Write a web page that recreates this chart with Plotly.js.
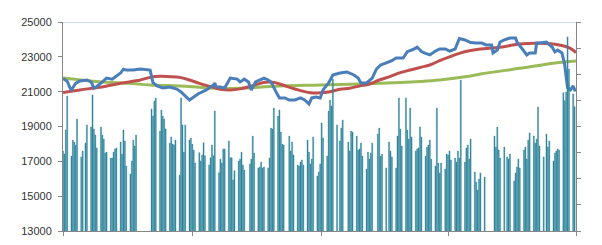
<!DOCTYPE html>
<html><head><meta charset="utf-8">
<script src="https://cdn.plot.ly/plotly-3.0.1.min.js"></script>
<style>html,body{margin:0;padding:0;background:#fff;} #chart{width:602px;height:245px;}</style>
</head><body><div id="chart"></div>
<script>
// calendar window of the chart (day offsets are counted from startDate, a Tuesday)
const startDate = '2014-07-01';
const endDate = '2015-07-01';
const quarterTicks = ['2014-07-01', '2014-10-01', '2015-01-01', '2015-04-01', '2015-07-01'];
const yTicks = [13000, 15000, 17000, 19000, 21000, 23000, 25000];

// volume bars, one row per week, Mon..Fri (null = no bar)
const volumeWeeks = [
  [null, 17590, 17420, 18800, 20750],
  [17300, 18220, 18110, 17940, 19430],
  [17250, 17590, null, 18050, 19090],
  [18970, 20810, 18860, 18510, 17770],
  [18970, 18510, 18280, 17480, 17530],
  [17190, 17190, 17530, 17710, 17770],
  [18110, 17420, 18800, 18170, 16730],
  [16270, 17020, 18220, 17880, 18510],
  [null, null, null, null, null],
  [null, 20000, 19600, 20460, 20640],
  [18740, 19950, 19600, 19430, 18860],
  [18050, 18400, 17990, 17940, 18220],
  [16210, 20640, 19090, 17530, 19090],
  [18220, 18340, 17990, 17650, 16900],
  [17500, 17020, 17370, 18070, 17320],
  [16790, 17210, 17940, 17320, 19890],
  [16350, 17130, 16900, 17710, 17710],
  [18170, 17210, 17210, 15930, 16460],
  [17020, 17130, 17530, 16790, 16500],
  [null, 16850, 17130, 18450, 17480],
  [16620, 16670, 16960, 16620, 16670],
  [16620, 17190, 18910, 18860, 20060],
  [19600, 19950, 18680, 17990, 17940],
  [null, 18450, 17590, 18110, 17370],
  [16790, 16730, 16960, 17080, 16790],
  [18220, 17530, 16850, 17130, 18400],
  [16160, 16390, 16850, 19200, 18340],
  [17300, 19890, 20520, 20180, 21730],
  [19090, null, 18170, 18910, 19370],
  [null, 18110, 17590, 18740, 18680],
  [18450, 17650, 17710, 18050, 17300],
  [16560, 17530, 17130, 17480, 18050],
  [null, 18570, 18910, 17300, 17420],
  [16620, null, 18110, 17590, 17250],
  [16620, 18450, 20640, 18860, 17880],
  [20640, 18800, 18280, 20060, 18400],
  [17590, 17710, 17770, 18970, 18400],
  [17300, 17820, 17940, 18220, 17130],
  [16730, 20060, 16900, 16330, 16900],
  [16560, 17420, 17370, 17590, 17080],
  [17190, 16960, 17590, 17190, 21670],
  [16960, 17770, 17940, 17130, 18280],
  [16390, 15810, 15350, 15980, 16330],
  [16100, null, null, null, null],
  [18450, 17820, 18970, 17650, 17190],
  [17820, null, 17250, 17130, 17420],
  [15870, 16330, 16670, 17130, 16620],
  [17650, 17820, 17130, 18220, 18630],
  [18450, 18050, 18280, 20120, 17880],
  [17250, null, 18570, 17820, 18170],
  [17020, 17480, 17590, 17710, 17650],
  [20940, 20480, 20980, 24140, 22300],
  [20870, 20140]
];

// price line (blue)
const priceDays = [0,3,5,6,9,12,17,20,22,24,28,31,35,37,41,43,45,50,55,62,64,67,71,76,81,84,88,90,93,96,102,107,108,109,112,115,119,124,126,129,132,134,137,140,143,146,148,152,154,158,161,165,169,172,175,177,180,183,185,189,192,197,202,207,210,212,216,220,223,226,230,234,237,242,245,249,252,255,258,261,265,268,272,275,279,282,286,290,294,298,301,305,306,309,311,314,318,322,323,327,330,332,336,337,339,344,348,350,352,355,357,358,359,361,363,364,365];
const priceValues = [21750,21600,21210,21100,21480,21610,21670,21560,21200,21300,21560,21780,21720,21850,22070,22290,22240,22250,22300,22240,21520,21330,21210,21270,21150,20980,20690,20520,20690,20870,21100,21380,21500,21270,21270,21210,21780,21720,21560,21720,21560,21100,21560,21670,21780,21670,21560,20920,20640,20640,20520,20520,20640,20520,20290,20640,20690,20640,21100,21500,21960,22070,22130,21960,21780,21500,21500,21780,22300,22530,22650,22780,22930,22930,23300,23420,23560,23300,23200,23110,23330,23450,23450,23330,23450,24050,23970,23820,23790,23790,23680,23680,23220,23390,23850,23970,24080,24080,23850,23390,23110,23220,23220,23790,23790,23850,23560,23280,23390,23220,22530,21840,21210,21100,21330,21100,21100];

// shorter moving average (red)
const fastDays = [0,12,26,41,55,62,69,76,83,90,97,105,112,119,126,133,144,151,158,169,176,183,190,197,204,211,218,225,233,240,247,254,261,268,282,290,297,311,325,339,353,361,365];
const fastValues = [20950,21100,21250,21480,21670,21820,21880,21860,21820,21670,21480,21290,21140,21100,21160,21300,21540,21520,21330,21060,20940,20940,21000,21140,21200,21330,21440,21670,21880,22090,22240,22390,22530,22780,23200,23360,23450,23550,23740,23780,23680,23490,23240];

// longer moving average (green)
const slowDays = [0,26,47,62,83,97,112,126,154,183,211,240,254,268,290,297,325,353,365];
const slowValues = [21790,21570,21480,21380,21330,21250,21170,21190,21330,21380,21440,21520,21580,21670,21900,22010,22340,22670,22760];

const DAY = 86400000;
const t0 = Date.parse(startDate + 'T00:00:00Z');
function dayToDate(d) { return new Date(t0 + d * DAY).toISOString().slice(0, 10); }

const barX = [], barY = [];
volumeWeeks.forEach((week, k) => {
  week.forEach((v, i) => {
    const d = 7 * k - 1 + i;   // Monday of week k is day 7k-1
    if (v !== null && d >= 0) { barX.push(dayToDate(d)); barY.push(v); }
  });
});

const axisGray = '#868686';
const barColor = '#31859C';
const traces = [
  { type: 'scatter', mode: 'lines', x: slowDays.map(dayToDate), y: slowValues,
    line: { color: '#9BBB59', width: 3, shape: 'spline' }, hoverinfo: 'skip' },
  { type: 'scatter', mode: 'lines', x: fastDays.map(dayToDate), y: fastValues,
    line: { color: '#C0504D', width: 3, shape: 'spline' }, hoverinfo: 'skip' },
  { type: 'scatter', mode: 'lines', x: priceDays.map(dayToDate), y: priceValues,
    line: { color: '#4A7EBB', width: 3 }, hoverinfo: 'skip' },
  { type: 'bar', x: barX, y: barY, yaxis: 'y2',
    marker: { color: barColor, line: { width: 0.4, color: barColor } }, hoverinfo: 'skip' }
];

const layout = {
  width: 602, height: 245,
  margin: { l: 63, r: 26, t: 22, b: 14, pad: 0 },
  paper_bgcolor: '#ffffff', plot_bgcolor: '#ffffff',
  showlegend: false, bargap: 0.25,
  font: { family: 'Liberation Sans, Arial, sans-serif', size: 11, color: '#333333' },
  xaxis: {
    type: 'date', range: [startDate, endDate], tickmode: 'array', tickvals: quarterTicks,
    showticklabels: false, ticks: 'outside', ticklen: 4, tickcolor: axisGray,
    showline: true, linecolor: axisGray, linewidth: 1, showgrid: false, zeroline: false, fixedrange: true
  },
  yaxis: {
    range: [13000, 25000], tickmode: 'array', tickvals: yTicks, ticktext: yTicks.map(String),
    ticks: 'outside', ticklen: 4, tickcolor: axisGray, showline: true, linecolor: axisGray,
    showgrid: false, zeroline: false, ticklabelstandoff: 4,
    tickfont: { family: 'Liberation Sans, Arial, sans-serif', size: 11, color: '#333333' }
  },
  yaxis2: {
    overlaying: 'y', side: 'right', range: [13000, 25000], tick0: 13000, dtick: 1500,
    showticklabels: false, ticks: 'outside', ticklen: 4, tickcolor: axisGray,
    showline: true, linecolor: axisGray, showgrid: false, zeroline: false
  },
  shapes: [{ type: 'line', xref: 'paper', x0: 0, x1: 1, yref: 'y', y0: 25000, y1: 25000,
    line: { color: '#B9CDE5', width: 1.5 }, layer: 'below' }]
};

Plotly.newPlot('chart', traces, layout, { staticPlot: true, displayModeBar: false });
</script>
</body></html>
